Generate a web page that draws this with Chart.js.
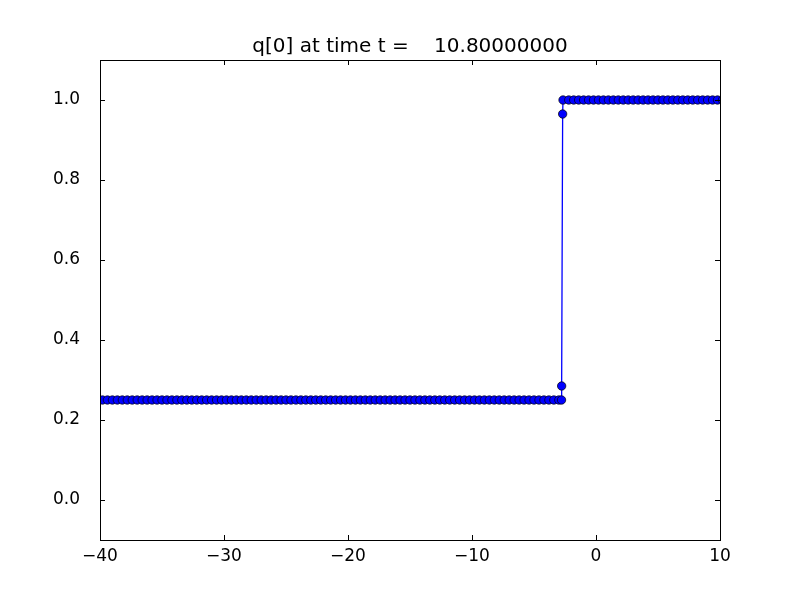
<!DOCTYPE html>
<html><head><meta charset="utf-8">
<script src="https://cdn.jsdelivr.net/npm/chart.js@4/dist/chart.umd.min.js"></script>
<style>html,body{margin:0;padding:0;background:#fff;}#wrap{width:800px;height:600px;}</style>
</head><body><div id="wrap"><canvas id="c" width="800" height="600"></canvas></div>
<script>
const titleText = 'q[0] at time t =    10.80000000';
const xValues = [
-39.8,-39.4,-39.0,-38.6,-38.2,-37.8,-37.4,-37.0,-36.6,-36.2,
-35.8,-35.4,-35.0,-34.6,-34.2,-33.8,-33.4,-33.0,-32.6,-32.2,
-31.8,-31.4,-31.0,-30.6,-30.2,-29.8,-29.4,-29.0,-28.6,-28.2,
-27.8,-27.4,-27.0,-26.6,-26.2,-25.8,-25.4,-25.0,-24.6,-24.2,
-23.8,-23.4,-23.0,-22.6,-22.2,-21.8,-21.4,-21.0,-20.6,-20.2,
-19.8,-19.4,-19.0,-18.6,-18.2,-17.8,-17.4,-17.0,-16.6,-16.2,
-15.8,-15.4,-15.0,-14.6,-14.2,-13.8,-13.4,-13.0,-12.6,-12.2,
-11.8,-11.4,-11.0,-10.6,-10.2,-9.8,-9.4,-9.0,-8.6,-8.2,
-7.8,-7.4,-7.0,-6.6,-6.2,-5.8,-5.4,-5.0,-4.6,-4.2,
-3.8,-3.4,-3.0,
-2.78,-2.77,-2.69,-2.66,
-2.2,-1.8,-1.4,-1.0,-0.6,-0.2,0.2,0.6,1.0,1.4,
1.8,2.2,2.6,3.0,3.4,3.8,4.2,4.6,5.0,5.4,
5.8,6.2,6.6,7.0,7.4,7.8,8.2,8.6,9.0,9.4,
9.8,10.2
];
const qValues = [
0.25,0.25,0.25,0.25,0.25,0.25,0.25,0.25,0.25,0.25,
0.25,0.25,0.25,0.25,0.25,0.25,0.25,0.25,0.25,0.25,
0.25,0.25,0.25,0.25,0.25,0.25,0.25,0.25,0.25,0.25,
0.25,0.25,0.25,0.25,0.25,0.25,0.25,0.25,0.25,0.25,
0.25,0.25,0.25,0.25,0.25,0.25,0.25,0.25,0.25,0.25,
0.25,0.25,0.25,0.25,0.25,0.25,0.25,0.25,0.25,0.25,
0.25,0.25,0.25,0.25,0.25,0.25,0.25,0.25,0.25,0.25,
0.25,0.25,0.25,0.25,0.25,0.25,0.25,0.25,0.25,0.25,
0.25,0.25,0.25,0.25,0.25,0.25,0.25,0.25,0.25,0.25,
0.25,0.25,0.25,
0.25,0.285,0.965,1.0,
1.0,1.0,1.0,1.0,1.0,1.0,1.0,1.0,1.0,1.0,
1.0,1.0,1.0,1.0,1.0,1.0,1.0,1.0,1.0,1.0,
1.0,1.0,1.0,1.0,1.0,1.0,1.0,1.0,1.0,1.0,
1.0,1.0
];
const xTicks = [-40,-30,-20,-10,0,10];
const yTicks = [0.0,0.2,0.4,0.6,0.8,1.0];
const xRange = [-40,10];
const yRange = [-0.1,1.1];

const FONT = 'DejaVu Sans';
const points = xValues.map((x,i)=>({x:x,y:qValues[i]}));

const framePlugin = {
  id:'frame',
  afterDatasetsDraw(chart){
    const {ctx, chartArea:a, scales} = chart;
    ctx.save();
    ctx.strokeStyle='#000'; ctx.lineWidth=1;
    ctx.strokeRect(Math.round(a.left)+0.5, Math.round(a.top)+0.5, Math.round(a.right-a.left), Math.round(a.bottom-a.top));
    const L=5;
    ctx.beginPath();
    xTicks.forEach(v=>{
      const px=Math.round(scales.x.getPixelForValue(v))+0.5;
      ctx.moveTo(px,a.bottom); ctx.lineTo(px,a.bottom-L);
      ctx.moveTo(px,a.top); ctx.lineTo(px,a.top+L);
    });
    yTicks.forEach(v=>{
      const py=Math.round(scales.y.getPixelForValue(v))+0.5;
      ctx.moveTo(a.left,py); ctx.lineTo(a.left+L,py);
      ctx.moveTo(a.right,py); ctx.lineTo(a.right-L,py);
    });
    ctx.stroke();
    ctx.restore();
  },
  afterDraw(chart){
    const {ctx, chartArea:a} = chart;
    ctx.save();
    ctx.fillStyle='#000';
    ctx.font='20px "'+FONT+'"';
    ctx.textAlign='center'; ctx.textBaseline='alphabetic';
    ctx.fillText(titleText,(a.left+a.right)/2,52);
    ctx.restore();
  }
};

const fmt = (s)=>s.replace('-','\u2212');

new Chart(document.getElementById('c'),{
  type:'line',
  data:{datasets:[{
    data:points,
    borderColor:'#0000ff',
    borderWidth:1.3,
    backgroundColor:'#0000ff',
    pointBackgroundColor:'#0000ff',
    pointBorderColor:'#000000',
    pointBorderWidth:0.7,
    pointRadius:4.2,
    tension:0,
    clip:0
  }]},
  options:{
    responsive:false,
    animation:false,
    devicePixelRatio:1,
    layout:{padding:{left:0,right:80,top:60,bottom:0}},
    plugins:{legend:{display:false},title:{display:false},tooltip:{enabled:false}},
    scales:{
      x:{type:'linear',min:xRange[0],max:xRange[1],
        afterFit(s){s.height=60;},
        afterBuildTicks(s){s.ticks=xTicks.map(v=>({value:v}));},
        grid:{display:false,drawTicks:false},
        border:{display:false},
        ticks:{color:'#000',padding:6,font:{family:FONT,size:17},maxRotation:0,
          callback:(v)=>fmt(String(v))}
      },
      y:{type:'linear',min:yRange[0],max:yRange[1],
        afterFit(s){s.width=100;},
        afterBuildTicks(s){s.ticks=yTicks.map(v=>({value:v}));},
        grid:{display:false,drawTicks:false},
        border:{display:false},
        ticks:{color:'#000',padding:20,font:{family:FONT,size:17},
          callback:(v)=>fmt(Number(v).toFixed(1))}
      }
    }
  },
  plugins:[framePlugin]
});
</script></body></html>
